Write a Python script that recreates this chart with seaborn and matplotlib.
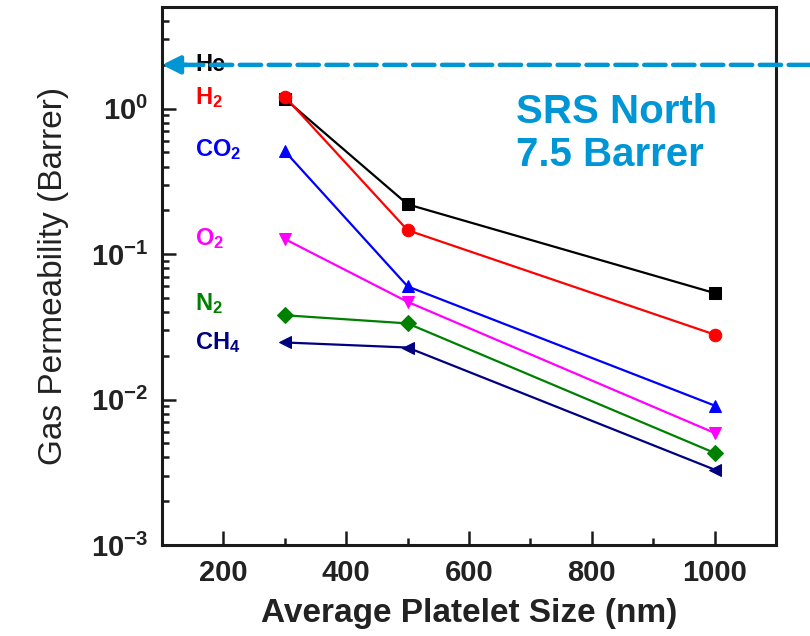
import seaborn as sns
import pandas as pd
import matplotlib.pyplot as plt
import numpy as np

# Data
sizes = [300, 500, 1000]
he = [1.17, 0.22, 0.054]
h2 = [1.21, 0.146, 0.028]
co2 = [0.51, 0.060, 0.0091]
o2 = [0.127, 0.047, 0.0059]
n2 = [0.038, 0.0334, 0.0043]
ch4 = [0.0247, 0.0228, 0.0033]
gases = ['He', 'H2', 'CO2', 'O2', 'N2', 'CH4']
gas_labels = ['He', r'H$_2$', r'CO$_2$', r'O$_2$', r'N$_2$', r'CH$_4$']
srs_north = 2.0
srs_text = 'SRS North\n7.5 Barrer'

data = pd.DataFrame({
    'size': sizes * 6,
    'perm': he + h2 + co2 + o2 + n2 + ch4,
    'gas': np.repeat(gases, 3),
})

sns.set_theme(style='white')
plt.rcParams['font.family'] = ['Liberation Sans', 'DejaVu Sans']
plt.rcParams['mathtext.fontset'] = 'custom'
plt.rcParams['mathtext.rm'] = 'Liberation Sans:bold'
plt.rcParams['mathtext.it'] = 'Liberation Sans:bold'
plt.rcParams['mathtext.bf'] = 'Liberation Sans:bold'

colors = {'He': '#000000', 'H2': '#ff0000', 'CO2': '#0000ff',
          'O2': '#ff00ff', 'N2': '#008000', 'CH4': '#000080'}
markers = {'He': 's', 'H2': 'o', 'CO2': '^', 'O2': 'v', 'N2': 'D', 'CH4': '<'}

fig = plt.figure(figsize=(8.1, 6.36), dpi=100)
ax = fig.add_axes([0.2, 0.143, 0.758, 0.846])

for g in gases:
    sub = data[data['gas'] == g]
    sns.lineplot(x='size', y='perm', data=sub, ax=ax, color=colors[g],
                 marker=markers[g], markersize=9 if g != 'N2' else 8,
                 markeredgecolor=colors[g], linewidth=1.6, legend=False)

ax.set_yscale('log')
ax.set_xlim(100, 1100)
ax.set_ylim(1e-3, 5)
ax.set_xticks(np.arange(200, 1001, 200))
ax.set_xticks(np.arange(100, 1101, 100), minor=True)
ax.set_yticks([1e-3, 1e-2, 1e-1, 1e0])

for s in ax.spines.values():
    s.set_linewidth(2.2)
    s.set_color('#1a1a1a')
ax.tick_params(which='both', direction='in', left=True, bottom=True,
               right=False, top=False, color='#1a1a1a', width=1.8)
ax.tick_params(which='major', length=10, labelsize=21, pad=10)
ax.tick_params(which='minor', length=5)
for lab in ax.get_xticklabels() + ax.get_yticklabels():
    lab.set_fontweight('bold')
    lab.set_color('#222222')

ax.set_xlabel('Average Platelet Size (nm)', fontsize=24, fontweight='bold',
              color='#222222', labelpad=8)
ax.set_ylabel('Gas Permeability (Barrer)', fontsize=24, color='#222222',
              labelpad=16)

# gas labels
label_y = [2.0, 1.2, 0.52, 0.127, 0.046, 0.0248]
for g, txt, yy in zip(gases, gas_labels, label_y):
    ax.text(154, yy, txt, color=colors[g], fontsize=17, fontweight='bold',
            ha='left', va='center')

# SRS North reference arrow
ax.annotate('', xy=(0.0, srs_north), xycoords=('axes fraction', 'data'),
            xytext=(1.0, srs_north), textcoords=('figure fraction', 'data'),
            arrowprops=dict(arrowstyle='-', color='#0096d6', lw=3.2,
                            linestyle=(0, (4.8, 1.7)), shrinkA=0, shrinkB=14),
            annotation_clip=False, zorder=5)
ax.annotate('', xy=(0.0, srs_north), xycoords=('axes fraction', 'data'),
            xytext=(0.04, srs_north), textcoords=('axes fraction', 'data'),
            arrowprops=dict(arrowstyle='-|>,head_length=0.9,head_width=0.45',
                            color='#0096d6', lw=3.2, shrinkA=0, shrinkB=0),
            annotation_clip=False, zorder=5)
fig.text(0.637, 0.79, srs_text, color='#0096d6', fontsize=29,
         fontweight='bold', ha='left', va='center', linespacing=1.15)

plt.savefig('out.png', dpi=100)
